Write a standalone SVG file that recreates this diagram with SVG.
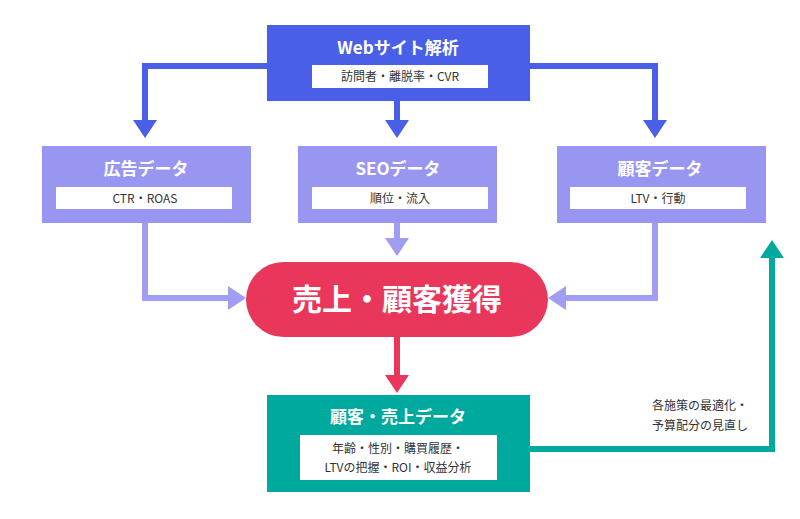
<svg xmlns="http://www.w3.org/2000/svg" width="800" height="519" viewBox="0 0 800 519">
<style>
text{font-family:"Noto Sans CJK JP","Noto Sans",sans-serif;text-anchor:middle}
.t{fill:#fff;font-weight:bold;font-size:17px}
.s{fill:#333;font-size:12px}
.w{fill:#fff}
</style>
<rect width="800" height="519" fill="#fff"/>
<g id="connectors" fill="none" stroke-width="6">
<g stroke="#4a5fe8">
<polyline points="267,66 145,66 145,122"/>
<line x1="397" y1="101" x2="397" y2="122"/>
<polyline points="530,66 655,66 655,122"/>
</g>
<g fill="#4a5fe8" stroke="none">
<polygon points="133,120 157,120 145,138"/>
<polygon points="385,120 409,120 397,138"/>
<polygon points="643,120 667,120 655,138"/>
</g>
<g stroke="#a09df2">
<polyline points="145,223 145,298 230,298"/>
<line x1="397" y1="223" x2="397" y2="240"/>
<polyline points="655,223 655,298 564,298"/>
</g>
<g fill="#a09df2" stroke="none">
<polygon points="228,286 228,310 246,298"/>
<polygon points="385,238 409,238 397,256"/>
<polygon points="566,286 566,310 548,298"/>
</g>
<line x1="397" y1="337" x2="397" y2="377" stroke="#e8375a"/>
<polygon points="385,375 409,375 397,393" fill="#e8375a" stroke="none"/>
<polyline points="530,449 772,449 772,256" stroke="#00a99d"/>
<polygon points="760,258 784,258 772,240" fill="#00a99d" stroke="none"/>
</g>
<g id="web">
<rect x="267" y="25" width="263" height="76" fill="#4a5fe8"/>
<text class="t" x="398" y="54">Webサイト解析</text>
<rect class="w" x="312" y="65" width="176" height="23"/>
<text class="s" x="400" y="81">訪問者・離脱率・CVR</text>
</g>
<g id="ad">
<rect x="42" y="146" width="209" height="77" fill="#9896f0"/>
<text class="t" x="146" y="175">広告データ</text>
<rect class="w" x="56" y="187" width="176" height="22"/>
<text class="s" x="145" y="203">CTR・ROAS</text>
</g>
<g id="seo">
<rect x="298" y="146" width="199" height="77" fill="#9896f0"/>
<text class="t" x="398" y="175">SEOデータ</text>
<rect class="w" x="312" y="187" width="176" height="22"/>
<text class="s" x="400" y="203">順位・流入</text>
</g>
<g id="cust">
<rect x="557" y="146" width="209" height="77" fill="#9896f0"/>
<text class="t" x="660" y="175">顧客データ</text>
<rect class="w" x="570" y="187" width="176" height="22"/>
<text class="s" x="658" y="203">LTV・行動</text>
</g>
<g id="sales">
<rect x="246" y="262" width="302" height="75" rx="37.5" fill="#e8375a"/>
<text x="397" y="310" fill="#fff" font-weight="bold" font-size="30">売上・顧客獲得</text>
</g>
<g id="data">
<rect x="267" y="395" width="263" height="97" fill="#00a99d"/>
<text class="t" x="398" y="423">顧客・売上データ</text>
<rect class="w" x="300" y="435" width="197" height="45"/>
<text class="s" x="398" y="453">年齢・性別・購買履歴・</text>
<text class="s" x="398" y="472">LTVの把握・ROI・収益分析</text>
</g>
<g id="label">
<text class="s" x="700" y="410" font-size="13">各施策の最適化・</text>
<text class="s" x="700" y="430" font-size="13">予算配分の見直し</text>
</g>
</svg>
